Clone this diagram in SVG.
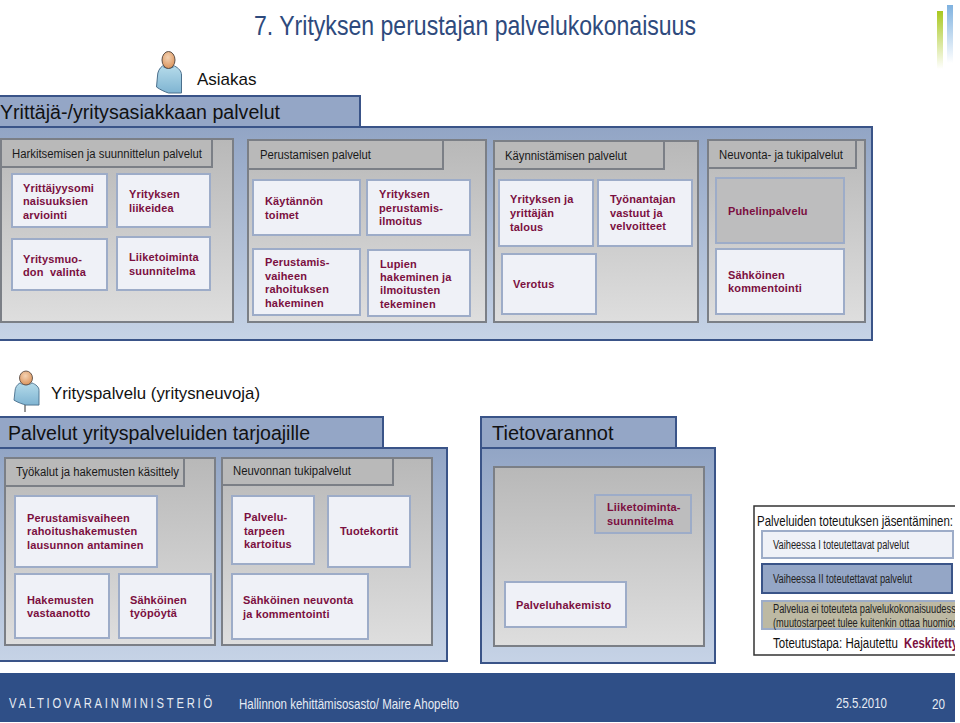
<svg xmlns="http://www.w3.org/2000/svg" width="960" height="723" viewBox="0 0 960 723">
<style>
text{font-family:"Liberation Sans",Arial,sans-serif}
.blue{fill:url(#gb);stroke:#3a5488;stroke-width:2}
.tab{fill:#94a6c6;stroke:#3a5488;stroke-width:2}
.gray{fill:url(#gg);stroke:#7b7f86;stroke-width:2}
.gtab{fill:#b9b9b9;stroke:#7b7f86;stroke-width:2}
.box{fill:#eff1f7;stroke:#9dacc8;stroke-width:2}
.gbox{fill:#bdbdbe;stroke:#9dacc8;stroke-width:2}
.t{font-size:11px;font-weight:bold;fill:#7b0f40;letter-spacing:.15px}
.tabt{font-size:12px;fill:#1a1a1a}
.h{font-size:20px;fill:#111}
.foot{fill:#e6ebf3}
.leg{font-size:12.5px;fill:#222}
</style>
<defs>
<linearGradient id="gb" x1="0" y1="0" x2="0" y2="1"><stop offset="0" stop-color="#92a5c5"/><stop offset="1" stop-color="#c6d3e6"/></linearGradient>
<linearGradient id="gg" x1="0" y1="0" x2="0" y2="1"><stop offset="0" stop-color="#b8b8b8"/><stop offset="1" stop-color="#dedede"/></linearGradient>
<linearGradient id="gm" x1="0" y1="0" x2="0" y2="1"><stop offset="0" stop-color="#a9c81e"/><stop offset="1" stop-color="#a9c81e" stop-opacity="0"/></linearGradient>
<linearGradient id="gc" x1="0" y1="0" x2="0" y2="1"><stop offset="0" stop-color="#7fb2e0"/><stop offset="1" stop-color="#7fb2e0" stop-opacity="0"/></linearGradient>
<linearGradient id="gbody" x1="0" y1="0" x2="0" y2="1"><stop offset="0" stop-color="#b5dbea"/><stop offset="1" stop-color="#7fb4d2"/></linearGradient>
<radialGradient id="ghead" cx=".45" cy=".35" r=".7"><stop offset="0" stop-color="#f4d3b4"/><stop offset="1" stop-color="#d98f55"/></radialGradient>
<clipPath id="cl"><rect x="740" y="490" width="215" height="180"/></clipPath>
<g id="person">
<path d="M-6 6C-9 8-11 12-11 16L-12 27C-8 30-3 32 0 33L13 33V15C13 11 10 8 6 6C3 9-3 9-6 6Z" fill="url(#gbody)" stroke="#4a6f8c" stroke-width="1"/>
<ellipse cx="0" cy="0" rx="6.5" ry="8.5" fill="url(#ghead)" stroke="#5d5048" stroke-width="1"/>
</g>
</defs>
<rect width="960" height="723" fill="#fff"/>

<g id="title">
<text x="254" y="35" font-size="28" fill="#2e4a7d" textLength="442" lengthAdjust="spacingAndGlyphs">7. Yrityksen perustajan palvelukokonaisuus</text>
<rect x="937" y="11" width="6" height="58" fill="url(#gm)"/>
<rect x="947" y="5" width="6" height="58" fill="url(#gc)"/>
</g>

<g id="asiakas">
<use href="#person" x="168.5" y="60"/>
<text x="197" y="85" font-size="17" fill="#111">Asiakas</text>
</g>

<g id="yrittaja-panel">
<rect class="blue" x="-3" y="127" width="875" height="213"/>
<rect class="tab" x="-3" y="96" width="363" height="31"/>
<text x="0" y="119" class="h" textLength="280" lengthAdjust="spacingAndGlyphs">Yrittäjä-/yritysasiakkaan palvelut</text>
</g>

<g id="harkitseminen">
<rect class="gray" x="1" y="139" width="232" height="183"/>
<rect class="gtab" x="1" y="139" width="211" height="28"/>
<text x="12" y="158" class="tabt" textLength="190" lengthAdjust="spacingAndGlyphs">Harkitsemisen ja suunnittelun palvelut</text>
</g>
<g id="n-yrittajyysomi"><rect class="box" x="12" y="174" width="95" height="53"/><text class="t" x="23" y="192">Yrittäjyysomi</text><text class="t" x="23" y="205">naisuuksien</text><text class="t" x="23" y="219">arviointi</text></g>
<g id="n-liikeidea"><rect class="box" x="117" y="174" width="93" height="53"/><text class="t" x="129" y="198">Yrityksen</text><text class="t" x="129" y="212">liikeidea</text></g>
<g id="n-yritysmuoto"><rect class="box" x="12" y="239" width="95" height="51"/><text class="t" x="23" y="263">Yritysmuo-</text><text class="t" x="23" y="276" xml:space="preserve">don  valinta</text></g>
<g id="n-liiketoiminta"><rect class="box" x="117" y="237" width="93" height="53"/><text class="t" x="129" y="261">Liiketoiminta</text><text class="t" x="129" y="275">suunnitelma</text></g>

<g id="perustaminen">
<rect class="gray" x="248" y="140" width="238" height="182"/>
<rect class="gtab" x="248" y="140" width="195" height="29"/>
<text x="260" y="159" class="tabt" textLength="111" lengthAdjust="spacingAndGlyphs">Perustamisen palvelut</text>
</g>
<g id="n-kaytannon"><rect class="box" x="253" y="180" width="107" height="55"/><text class="t" x="265" y="205">Käytännön</text><text class="t" x="265" y="219">toimet</text></g>
<g id="n-ilmoitus"><rect class="box" x="367" y="180" width="103" height="55"/><text class="t" x="379" y="198">Yrityksen</text><text class="t" x="379" y="212">perustamis-</text><text class="t" x="379" y="225">ilmoitus</text></g>
<g id="n-rahoitus"><rect class="box" x="253" y="249" width="107" height="66"/><text class="t" x="265" y="266">Perustamis-</text><text class="t" x="265" y="280">vaiheen</text><text class="t" x="265" y="293">rahoituksen</text><text class="t" x="265" y="307">hakeminen</text></g>
<g id="n-lupien"><rect class="box" x="368" y="250" width="102" height="66"/><text class="t" x="380" y="268">Lupien</text><text class="t" x="380" y="281">hakeminen ja</text><text class="t" x="380" y="294">ilmoitusten</text><text class="t" x="380" y="308">tekeminen</text></g>

<g id="kaynnistaminen">
<rect class="gray" x="494" y="141" width="204" height="181"/>
<rect class="gtab" x="494" y="141" width="170" height="28"/>
<text x="505" y="160" class="tabt" textLength="122" lengthAdjust="spacingAndGlyphs">Käynnistämisen palvelut</text>
</g>
<g id="n-talous"><rect class="box" x="499" y="180" width="94" height="66"/><text class="t" x="510" y="203">Yrityksen ja</text><text class="t" x="510" y="217">yrittäjän</text><text class="t" x="510" y="231">talous</text></g>
<g id="n-tyonantaja"><rect class="box" x="598" y="180" width="94" height="66"/><text class="t" x="610" y="203">Työnantajan</text><text class="t" x="610" y="217">vastuut ja</text><text class="t" x="610" y="230">velvoitteet</text></g>
<g id="n-verotus"><rect class="box" x="502" y="254" width="94" height="60"/><text class="t" x="513" y="288">Verotus</text></g>

<g id="neuvonta">
<rect class="gray" x="708" y="140" width="157" height="182"/>
<rect class="gtab" x="708" y="140" width="148" height="28"/>
<text x="719" y="159" class="tabt" textLength="124" lengthAdjust="spacingAndGlyphs">Neuvonta- ja tukipalvelut</text>
</g>
<g id="n-puhelin"><rect class="gbox" x="716" y="178" width="128" height="65"/><text class="t" x="728" y="215">Puhelinpalvelu</text></g>
<g id="n-kommentointi"><rect class="box" x="716" y="249" width="128" height="65"/><text class="t" x="728" y="279">Sähköinen</text><text class="t" x="728" y="292">kommentointi</text></g>

<g id="yrityspalvelu">
<use href="#person" transform="translate(26 378) scale(1 .82)"/>
<path d="M25 405V412" stroke="#333" stroke-width="1" fill="none"/>
<text x="51" y="399" font-size="17" fill="#111" textLength="209" lengthAdjust="spacingAndGlyphs">Yrityspalvelu (yritysneuvoja)</text>
</g>

<g id="palvelut-panel">
<rect class="blue" x="-3" y="448" width="450" height="213"/>
<rect class="tab" x="-3" y="417" width="386" height="31"/>
<text x="8" y="440" class="h" textLength="302" lengthAdjust="spacingAndGlyphs">Palvelut yrityspalveluiden tarjoajille</text>
</g>
<g id="tyokalut">
<rect class="gray" x="5" y="458" width="210" height="187"/>
<rect class="gtab" x="5" y="458" width="179" height="28"/>
<text x="16" y="476" class="tabt" textLength="163" lengthAdjust="spacingAndGlyphs">Työkalut ja hakemusten käsittely</text>
</g>
<g id="n-lausunto"><rect class="box" x="15" y="496" width="142" height="71"/><text class="t" x="27" y="522">Perustamisvaiheen</text><text class="t" x="27" y="535">rahoitushakemusten</text><text class="t" x="27" y="549">lausunnon antaminen</text></g>
<g id="n-hakemusten"><rect class="box" x="15" y="574" width="94" height="64"/><text class="t" x="27" y="604">Hakemusten</text><text class="t" x="27" y="617">vastaanotto</text></g>
<g id="n-tyopoyta"><rect class="box" x="119" y="574" width="92" height="64"/><text class="t" x="130" y="604">Sähköinen</text><text class="t" x="130" y="617">työpöytä</text></g>
<g id="neuvonnan">
<rect class="gray" x="222" y="458" width="210" height="187"/>
<rect class="gtab" x="222" y="458" width="171" height="27"/>
<text x="233" y="475" class="tabt" textLength="118" lengthAdjust="spacingAndGlyphs">Neuvonnan tukipalvelut</text>
</g>
<g id="n-palvelutarpeen"><rect class="box" x="232" y="496" width="82" height="68"/><text class="t" x="244" y="521">Palvelu-</text><text class="t" x="244" y="535">tarpeen</text><text class="t" x="244" y="548">kartoitus</text></g>
<g id="n-tuotekortit"><rect class="box" x="328" y="496" width="82" height="71"/><text class="t" x="340" y="535">Tuotekortit</text></g>
<g id="n-neuvonta"><rect class="box" x="232" y="574" width="136" height="65"/><text class="t" x="243" y="604">Sähköinen neuvonta</text><text class="t" x="243" y="618">ja kommentointi</text></g>

<g id="tietovarannot">
<rect class="blue" x="481" y="448" width="234" height="215"/>
<rect class="tab" x="481" y="417" width="195" height="31"/>
<text x="492" y="440" class="h">Tietovarannot</text>
<rect class="gray" x="494" y="467" width="210" height="179"/>
</g>
<g id="n-liiketoimintasuunnitelma"><rect class="gbox" x="595" y="495" width="96" height="38"/><text class="t" x="607" y="511">Liiketoiminta-</text><text class="t" x="607" y="525">suunnitelma</text></g>
<g id="n-palveluhakemisto"><rect class="box" x="505" y="582" width="121" height="45"/><text class="t" x="516" y="609">Palveluhakemisto</text></g>

<g id="legend" clip-path="url(#cl)">
<path d="M960 506H754V655H960" fill="#fff" stroke="#333" stroke-width="1.5"/>
<text x="757" y="526" font-size="15" fill="#111" textLength="196" lengthAdjust="spacingAndGlyphs">Palveluiden toteutuksen jäsentäminen:</text>
<rect x="762" y="531" width="191" height="27" fill="#eff1f7" stroke="#9dacc8" stroke-width="2"/>
<text x="773" y="549" class="leg" textLength="136" lengthAdjust="spacingAndGlyphs">Vaiheessa I toteutettavat palvelut</text>
<rect x="762" y="564" width="190" height="29" fill="#94a6c6" stroke="#3a5488" stroke-width="2"/>
<text x="773" y="583" class="leg" textLength="139" lengthAdjust="spacingAndGlyphs">Vaiheessa II toteutettavat palvelut</text>
<rect x="762" y="601" width="200" height="28" fill="#bdb9a3" stroke="#9dacc8" stroke-width="2"/>
<text x="773" y="613" class="leg" textLength="188" lengthAdjust="spacingAndGlyphs">Palvelua ei toteuteta palvelukokonaisuudessa</text>
<text x="773" y="627" class="leg" textLength="190" lengthAdjust="spacingAndGlyphs">(muutostarpeet tulee kuitenkin ottaa huomioon</text>
<text x="773" y="648" font-size="15.5" fill="#111" textLength="125" lengthAdjust="spacingAndGlyphs">Toteutustapa: Hajautettu</text>
<text x="904" y="648" font-size="14" font-weight="bold" fill="#7b0f40" textLength="54" lengthAdjust="spacingAndGlyphs">Keskitetty</text>
</g>

<g id="footer">
<rect x="0" y="673" width="955" height="49" fill="#2f4f87"/>
<text transform="translate(9 708) scale(.75 1)" font-size="15" class="foot" letter-spacing="3.7">VALTIOVARAINMINISTERIÖ</text>
<text x="239" y="709" font-size="15" class="foot" textLength="220" lengthAdjust="spacingAndGlyphs">Hallinnon kehittämisosasto/ Maire Ahopelto</text>
<text x="836" y="708" font-size="15" class="foot" textLength="51" lengthAdjust="spacingAndGlyphs">25.5.2010</text>
<text x="932" y="709" font-size="15" class="foot" textLength="13" lengthAdjust="spacingAndGlyphs">20</text>
</g>
</svg>
